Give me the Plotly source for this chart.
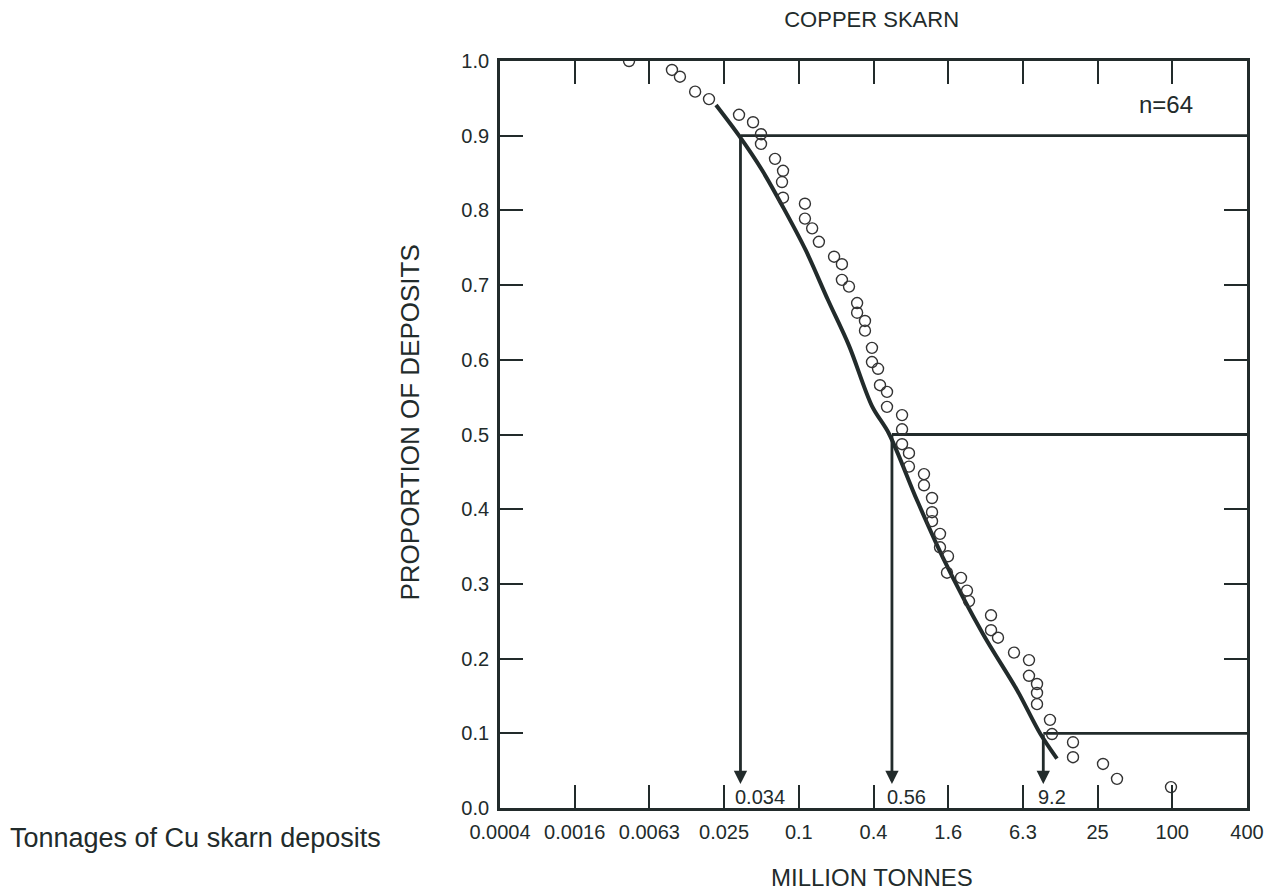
import math
import plotly.graph_objects as go

# ---- data ----
tonnage = [0.00433, 0.00958, 0.0111, 0.0147, 0.0190, 0.0331, 0.0429, 0.0497, 0.0497, 0.0644,
           0.0747, 0.0733, 0.0747, 0.112, 0.112, 0.128, 0.145, 0.192, 0.222, 0.222,
           0.253, 0.294, 0.294, 0.340, 0.340, 0.387, 0.387, 0.433, 0.449, 0.511,
           0.511, 0.675, 0.675, 0.675, 0.767, 0.767, 1.013, 1.013, 1.175, 1.175,
           1.175, 1.362, 1.362, 1.579, 1.550, 2.008, 2.244, 2.329, 3.499, 3.499,
           3.981, 5.353, 7.063, 7.063, 8.191, 8.191, 8.191, 10.41, 10.81, 15.94,
           15.94, 27.76, 35.96, 97.6]
proportion = [1.000, 0.988, 0.979, 0.959, 0.949, 0.928, 0.918, 0.902, 0.889, 0.869,
              0.853, 0.838, 0.817, 0.809, 0.789, 0.776, 0.758, 0.738, 0.728, 0.707,
              0.698, 0.676, 0.663, 0.652, 0.639, 0.616, 0.597, 0.588, 0.566, 0.557,
              0.537, 0.526, 0.507, 0.487, 0.475, 0.457, 0.447, 0.432, 0.415, 0.396,
              0.384, 0.367, 0.349, 0.337, 0.315, 0.308, 0.291, 0.277, 0.258, 0.238,
              0.228, 0.208, 0.198, 0.177, 0.166, 0.154, 0.139, 0.118, 0.099, 0.088,
              0.068, 0.059, 0.039, 0.028]

fit_x = [0.02163, 0.0331, 0.05064, 0.07605, 0.1142, 0.1716, 0.2530, 0.3873, 0.5303,
         0.8901, 1.440, 3.016, 5.655, 8.656, 11.85]
fit_y = [0.941, 0.900, 0.854, 0.802, 0.746, 0.680, 0.619, 0.538, 0.501,
         0.412, 0.335, 0.233, 0.158, 0.100, 0.066]

pct_levels = [0.9, 0.5, 0.1]
pct_values = [0.034, 0.56, 9.2]
pct_labels = ["0.034", "0.56", "9.2"]

x_tickvals = [10 ** (-3.4 + 0.6 * k) for k in range(11)]
x_ticktext = ["0.0004", "0.0016", "0.0063", "0.025", "0.1", "0.4", "1.6", "6.3", "25", "100", "400"]
y_tickvals = [i / 10 for i in range(11)]

INK = "#222b2b"
FONT = "Liberation Sans, Arial, Helvetica, sans-serif"
X_MAX = 400

fig = go.Figure()

# reference lines (horizontal from value to right edge)
for lvl, val in zip(pct_levels, pct_values):
    fig.add_trace(go.Scatter(x=[val, X_MAX], y=[lvl, lvl], mode="lines",
                             line=dict(color=INK, width=2.8), hoverinfo="skip", showlegend=False))

# fitted curve
fig.add_trace(go.Scatter(x=fit_x, y=fit_y, mode="lines",
                         line=dict(color=INK, width=4, shape="spline", smoothing=0.9),
                         showlegend=False))

# observed deposits
fig.add_trace(go.Scatter(x=tonnage, y=proportion, mode="markers",
                         marker=dict(symbol="circle-open", size=11, color="#333",
                                     line=dict(width=1.4, color="#333")),
                         showlegend=False))

annotations = []
for lvl, val, lab in zip(pct_levels, pct_values, pct_labels):
    lx = math.log10(val)
    annotations.append(dict(x=lx, y=0.032, xref="x", yref="y",
                            ax=lx, ay=lvl, axref="x", ayref="y",
                            showarrow=True, arrowhead=2, arrowwidth=2.8, arrowsize=0.95,
                            arrowcolor=INK, text=""))
    annotations.append(dict(x=lx, y=0.0147, xref="x", yref="y", text=lab,
                            showarrow=False, xanchor="left", yanchor="middle", xshift=-7,
                            font=dict(size=20, color=INK, family=FONT)))

annotations += [
    dict(x=0.853, y=0.9424, xref="paper", yref="paper", text="n=64", showarrow=False,
         xanchor="left", yanchor="middle", font=dict(size=24, color=INK, family=FONT)),
    dict(x=-0.1205, y=0.516, xref="paper", yref="paper", text="PROPORTION OF DEPOSITS",
         textangle=-90, showarrow=False, xanchor="center", yanchor="middle",
         font=dict(size=26, color=INK, family=FONT)),
    dict(x=0.4975, y=-0.0937, xref="paper", yref="paper", text="MILLION TONNES",
         showarrow=False, xanchor="center", yanchor="middle",
         font=dict(size=24, color=INK, family=FONT)),
    dict(x=-0.6586, y=-0.0402, xref="paper", yref="paper", text="Tonnages of Cu skarn deposits",
         showarrow=False, xanchor="left", yanchor="middle",
         font=dict(size=27, color=INK, family=FONT)),
]

fig.update_layout(
    width=1286, height=895,
    margin=dict(l=492, r=47, t=53, b=95),
    paper_bgcolor="white", plot_bgcolor="white",
    title=dict(text="COPPER SKARN", x=0.4975, xref="paper", xanchor="center",
               y=1 - 11 / 895, yref="container", yanchor="middle",
               font=dict(size=22, color=INK, family=FONT)),
    annotations=annotations,
    showlegend=False,
)

fig.update_xaxes(type="log", range=[-3.4, 2.6], tickvals=x_tickvals, ticktext=x_ticktext,
                 ticks="inside", ticklen=23, tickwidth=2, tickcolor=INK,
                 showline=True, linewidth=2.8, linecolor=INK, mirror="ticks",
                 showgrid=False, zeroline=False, ticklabelstandoff=4,
                 tickfont=dict(size=20, color=INK, family=FONT))
fig.update_yaxes(range=[0, 1], tickvals=y_tickvals, tickformat=".1f",
                 ticks="inside", ticklen=23, tickwidth=2, tickcolor=INK,
                 showline=True, linewidth=2.8, linecolor=INK, mirror="ticks",
                 showgrid=False, zeroline=False, ticklabelstandoff=4,
                 tickfont=dict(size=20, color=INK, family=FONT))

fig.write_html("out.html")
